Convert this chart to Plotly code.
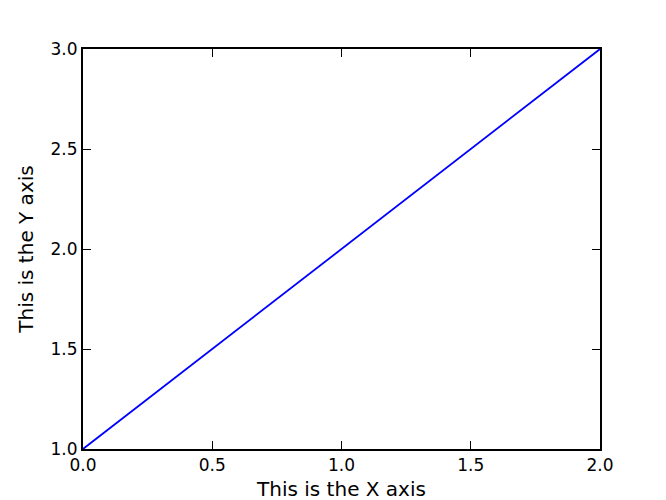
import plotly.graph_objects as go

x = [0.0, 2.0]
y = [1.0, 3.0]
xticks = [0.0, 0.5, 1.0, 1.5, 2.0]
yticks = [1.0, 1.5, 2.0, 2.5, 3.0]

fig = go.Figure(go.Scatter(x=x, y=y, mode="lines", line=dict(color="#0000ff", width=1.8)))
ax = dict(showgrid=False, zeroline=False, showline=True, linecolor="black", linewidth=2,
          mirror="ticks", ticks="inside", ticklen=8, tickwidth=1, tickcolor="black",
          automargin=False, tickfont=dict(size=17))
fig.update_layout(
    width=666, height=500, plot_bgcolor="white", paper_bgcolor="white",
    margin=dict(l=75, r=74, t=41, b=59),
    font=dict(family="DejaVu Sans", size=17, color="black"),
    showlegend=False,
    xaxis=dict(ax, range=[0, 2], tickvals=xticks, ticktext=[f"{v:.1f}" for v in xticks],
               title=dict(text="This is the X axis", standoff=8)),
    yaxis=dict(ax, range=[1, 3], tickvals=yticks, ticktext=[f"{v:.1f}" for v in yticks],
               title=dict(text="This is the Y axis", standoff=12)),
)
fig.write_html("out.html")
